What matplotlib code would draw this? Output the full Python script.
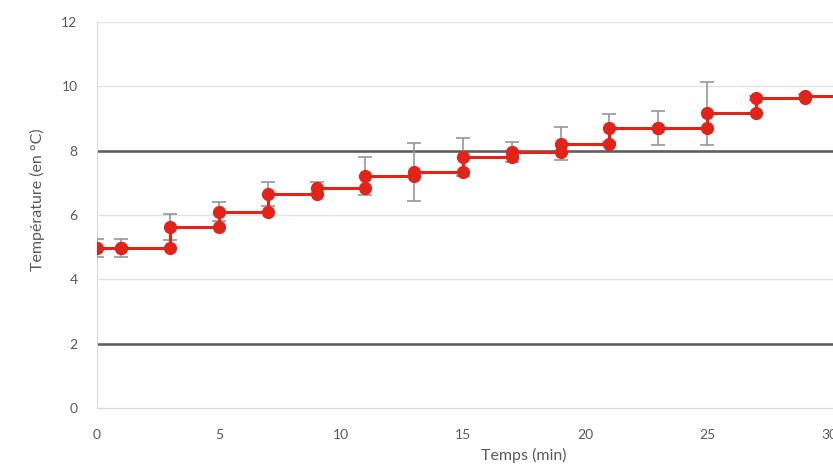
import matplotlib.pyplot as plt
import numpy as np

plt.rcParams['font.family'] = ['Lato', 'DejaVu Sans']

# Mesures : temps (min), température moyenne (°C) et écart-type
temps = [0, 1, 3, 5, 7, 9, 11, 13, 15, 17, 19, 21, 23, 25, 27, 29, 31]
temperature = [4.97, 4.97, 5.63, 6.10, 6.65, 6.85, 7.22, 7.33, 7.80,
               7.95, 8.22, 8.70, 8.70, 9.17, 9.64, 9.70, 9.70]
ecart = [0.28, 0.28, 0.40, 0.30, 0.37, 0.19, 0.59, 0.90, 0.59,
         0.31, 0.51, 0.44, 0.53, 0.98, 0.05, 0.05, 0.0]

# Seuils de référence
seuils = [2, 8]

t = np.array(temps)
v = np.array(temperature)

# Courbe en escalier : à chaque mesure, point à l'ancien niveau puis au nouveau
x_step = np.concatenate([[t[0]], np.repeat(t[1:], 2)])
y_step = np.concatenate([[v[0]], np.column_stack([v[:-1], v[1:]]).ravel()])

fig = plt.figure(figsize=(8.33, 4.66), dpi=100)
ax = fig.add_axes([97 / 833, 58 / 466, 854 / 833, 386 / 466])

for s in seuils:
    ax.axhline(s, color='#5f5f5f', lw=1.9, zorder=2)

ax.errorbar(t, v, yerr=ecart, fmt='none', ecolor='#969696', elinewidth=1.2,
            capsize=5, capthick=1.2, zorder=3)
ax.plot(x_step, y_step, color='#e2231a', lw=2.2, marker='o', ms=8.5,
        mfc='#e2231a', mec='#e2231a', zorder=4)

ax.set_xlim(0, 35)
ax.set_ylim(0, 12)
ax.set_xticks(range(0, 36, 5))
ax.set_yticks(range(0, 13, 2))
ax.yaxis.grid(True, color='#e3e3e3', lw=1)
ax.set_axisbelow(True)

for side in ['top', 'right']:
    ax.spines[side].set_visible(False)
ax.spines['left'].set_color('#d9d9d9')
ax.spines['bottom'].set_color('#d9d9d9')
ax.tick_params(length=0, labelsize=10, labelcolor='#595959')
ax.tick_params(axis='x', pad=15)
ax.tick_params(axis='y', pad=14)

ax.set_xlabel('Temps (min)', fontsize=11.5, color='#595959', labelpad=5)
ax.set_ylabel('Température (en °C)', fontsize=11.5, color='#595959')
ax.yaxis.set_label_coords(-0.061, 0.539)

fig.savefig('out.png', dpi=100)
